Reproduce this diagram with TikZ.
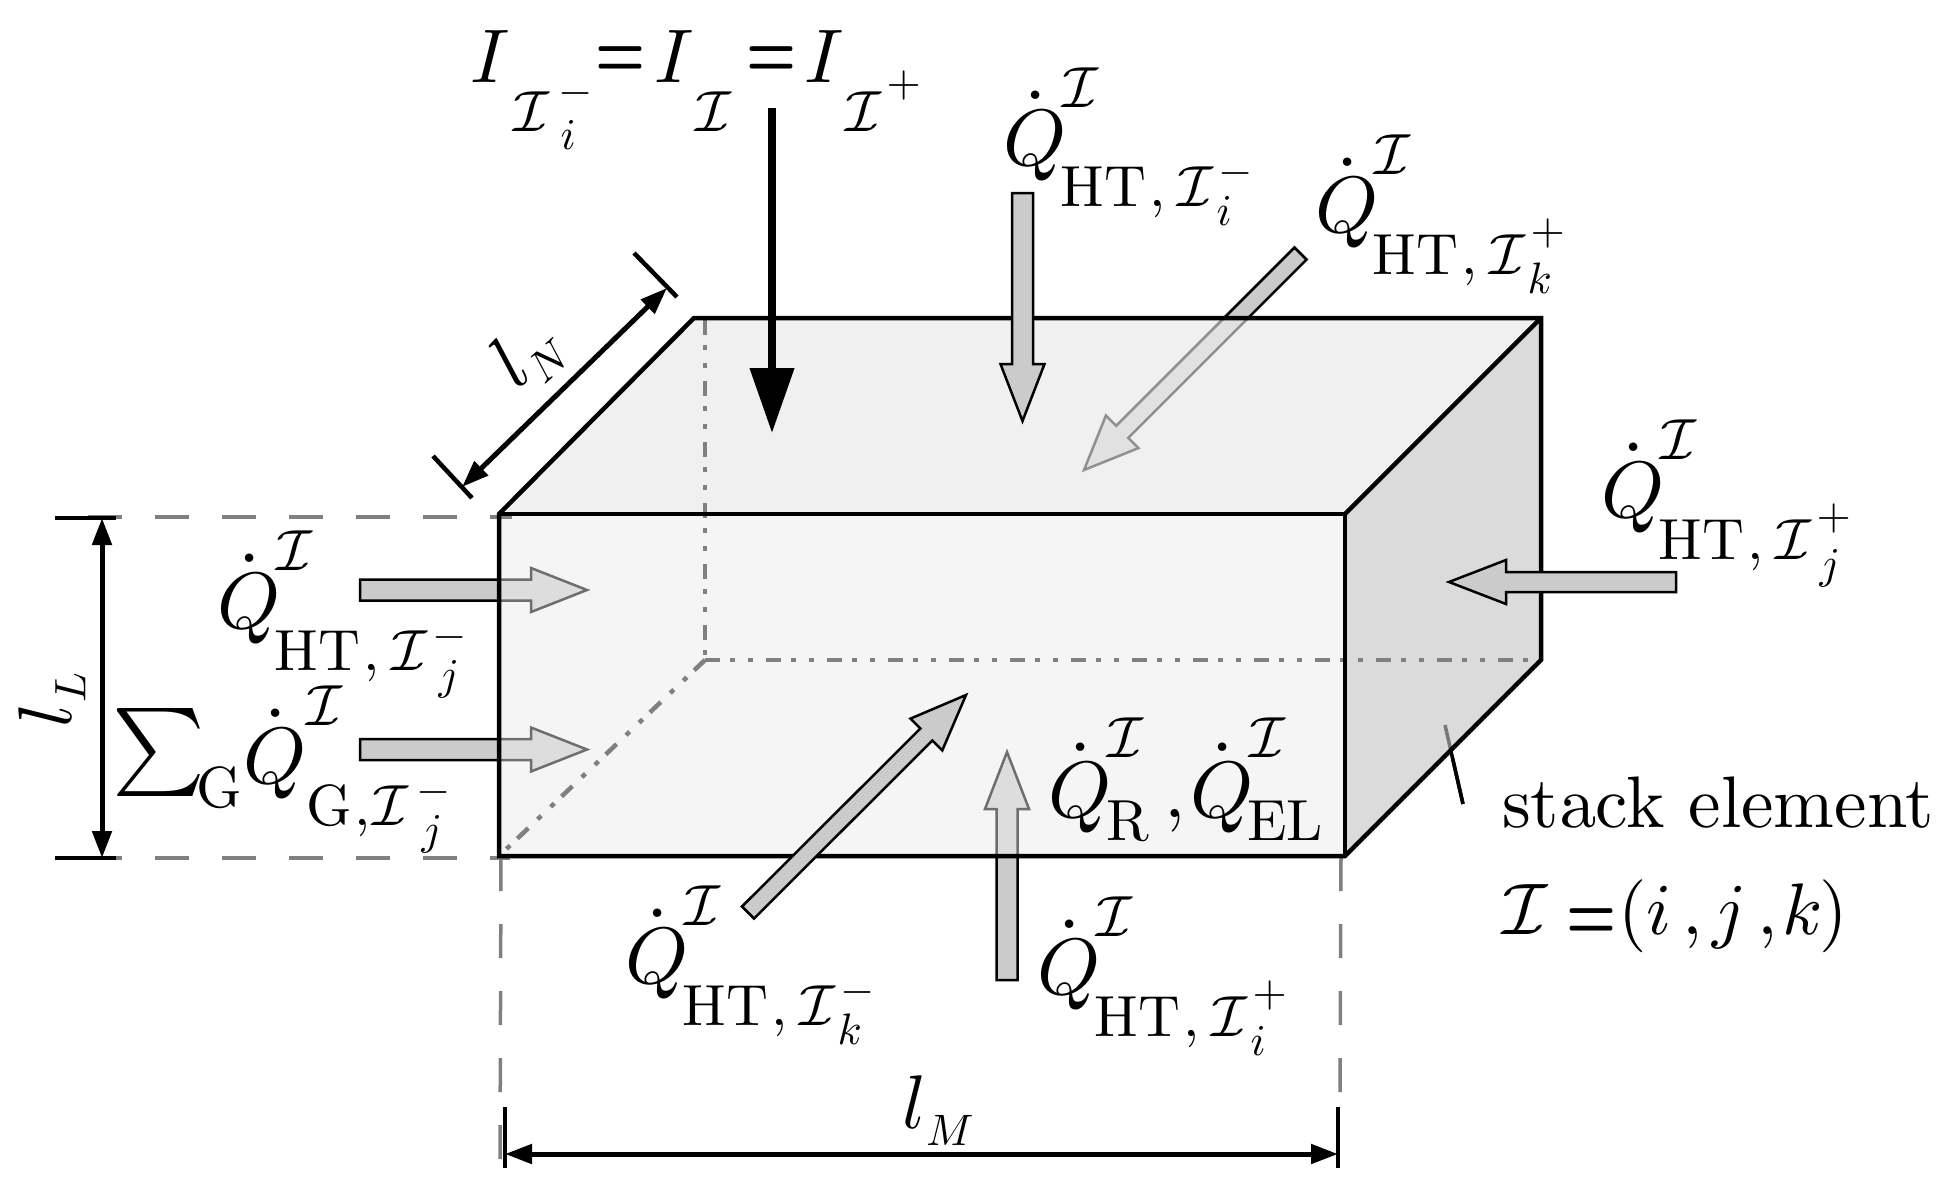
\documentclass[tikz,border=0pt]{standalone}
\usetikzlibrary{calc,arrows.meta}
\definecolor{topface}{HTML}{F0F0F0}
\definecolor{frontface}{HTML}{F5F5F5}
\definecolor{sideface}{HTML}{DBDBDB}
\definecolor{flowfill}{HTML}{CBCBCB}
\definecolor{hiddenline}{HTML}{808080}
\AtBeginDocument{\sbox0{$x$}}
\newcommand\setsz[1]{\font\rsfa=cmmi10 at #1pt \font\rsfb=cmr10 at #1pt \font\rsfc=cmsy10 at #1pt \font\rsfd=cmex10 at #1pt \textfont0=\rsfb \textfont1=\rsfa \textfont2=\rsfc \textfont3=\rsfd}
\newcommand\M[2]{{\setsz{#1}$#2$}}
\newcommand\RM[2]{{\setsz{#1}\rsfb #2}}
\newcommand\Pc[3]{\rlap{\kern#1pt\raisebox{#2pt}{#3}}}
\newcommand\CI[1][58]{\M{#1}{\mathcal I}}
\newcommand\EQ{\scalebox{1}[1.4]{{\font\rseq=cmbx10 at 56pt \rseq =}}}
% Q-dot with superscript I and HT subscript: #1 sign, #2 sign raise, #3 index, #4 index x
\newcommand\QHT[4]{\mbox{\Pc{-3}{0}{\M{80}{\dot Q}}\Pc{56}{58}{\CI}\Pc{54}{-42}{\RM{58}{HT}}\Pc{143}{-42}{\M{58}{,}}\Pc{171}{-42}{\CI}\Pc{212}{#2}{\M{44}{#1}}\Pc{#4}{-61}{\M{44}{#3}}}}
\tikzset{
  box/.style={draw=black,line width=4.5pt,line join=miter},
  blockflow/.style={draw=black,fill=flowfill,line width=2.5pt,line join=miter},
  hid/.style={draw=hiddenline,line width=4.5pt,dash pattern=on 15pt off 10pt on 5pt off 13pt on 5pt off 13pt},
  extn/.style={draw=hiddenline,line width=3.5pt,dash pattern=on 34pt off 33pt},
  dimline/.style={draw=black,line width=5pt,{Triangle[length=27pt,width=19pt]}-{Triangle[length=27pt,width=19pt]}},
  tick/.style={draw=black,line width=4.5pt},
  lab/.style={anchor=base west,inner sep=0pt,outer sep=0pt}
}
% tail, tip, shaft half width, head length, head half width
\newcommand\barrow[6][]{\draw[blockflow,#1] ($(#2)!#4pt!90:(#3)$) -- ($($(#3)!#5pt!(#2)$)!#4pt!90:(#3)$) -- ($($(#3)!#5pt!(#2)$)!#6pt!90:(#3)$) -- (#3) -- ($($(#3)!#5pt!(#2)$)!#6pt!-90:(#3)$) -- ($($(#3)!#5pt!(#2)$)!#4pt!-90:(#3)$) -- ($(#2)!#4pt!-90:(#3)$) -- cycle;}
\begin{document}
\begin{tikzpicture}[x=1pt,y=-1pt]
\useasboundingbox (0,0) rectangle (1947,1196);
% cuboid corners
\coordinate (FTL) at (499,514);
\coordinate (FTR) at (1345,514);
\coordinate (FBL) at (499,856);
\coordinate (FBR) at (1345,856);
\coordinate (BTL) at (694,318);
\coordinate (BTR) at (1541,318);
\coordinate (BBR) at (1541,660);
\coordinate (HID) at (705,660);
\coordinate (HIDT) at (705,320);
% opaque faces
\fill[topface] (FTL)--(BTL)--(BTR)--(FTR)--cycle;
\fill[frontface] (FTL)--(FTR)--(FBR)--(FBL)--cycle;
\fill[sideface] (FTR)--(BTR)--(BBR)--(FBR)--cycle;
% arrows seen through the faces
\coordinate (a1t) at (360,590); \coordinate (a1h) at (587,590);
\coordinate (a2t) at (360,749.5); \coordinate (a2h) at (587,749.5);
\coordinate (a3t) at (1300.5,253.5); \coordinate (a3h) at (1084,470);
\coordinate (a4t) at (1007,980); \coordinate (a4h) at (1007,752);
\barrow{a1t}{a1h}{10.5}{56}{22}
\barrow{a2t}{a2h}{10.5}{56}{22}
\barrow{a3t}{a3h}{8.5}{54}{23}
\barrow{a4t}{a4h}{10.5}{57}{22}
\coordinate (st1) at (1445,725); \coordinate (st2) at (1463,804);
\draw[line width=3.5pt] (st1)--(st2);
% translucent faces over them
\fill[topface,opacity=.6] (FTL)--(BTL)--(BTR)--(FTR)--cycle;
\fill[frontface,opacity=.45] (FTL)--(FTR)--(FBR)--(FBL)--cycle;
\fill[sideface,opacity=.55] (FTR)--(BTR)--(BBR)--(FBR)--cycle;
% hidden edges
\draw[hid] (HIDT)--(HID);
\draw[hid] (HID)--(BBR);
\draw[hid] (HID)--(FBL);
% extension lines
\coordinate (e1a) at (512,517); \coordinate (e1b) at (86,517);
\coordinate (e2a) at (510,858); \coordinate (e2b) at (116,858);
\coordinate (e3a) at (501,857); \coordinate (e3b) at (500,1160);
\coordinate (e4a) at (1341,857); \coordinate (e4b) at (1340,1095);
\draw[extn,dash phase=12pt] (e1a)--(e1b);
\draw[extn,dash phase=14pt] (e2a)--(e2b);
\draw[extn] (e3a)--(e3b);
\draw[extn] (e4a)--(e4b);
% cuboid edges
\draw[box] (FTL)--(BTL)--(BTR)--(BBR)--(FBR)--(FBL)--cycle;
\draw[box] (FTL)--(FTR)--(FBR);
\draw[box] (FTR)--(BTR);
% arrows on top
\coordinate (a5t) at (1022.5,193); \coordinate (a5h) at (1022.5,421);
\coordinate (a6t) at (1676,582); \coordinate (a6h) at (1449,582);
\coordinate (a7t) at (748,912.5); \coordinate (a7h) at (966,695);
\barrow{a5t}{a5h}{10.5}{57}{22}
\barrow{a6t}{a6h}{10}{57}{22}
\barrow{a7t}{a7h}{8.5}{56}{22.5}
% current arrow
\coordinate (ct) at (772,108); \coordinate (ch) at (772,433);
\draw[line width=7.5pt,-{Triangle[length=65pt,width=43pt]}] (ct)--(ch);
% dimensions
\coordinate (LLa) at (55,518); \coordinate (LLb) at (116,518);
\coordinate (LLc) at (55,858); \coordinate (LLd) at (116,858);
\coordinate (LLt) at (102,518); \coordinate (LLe) at (102,858);
\draw[tick] (LLa)--(LLb);
\draw[tick] (LLc)--(LLd);
\draw[dimline] (LLt)--(LLe);
\coordinate (LMa) at (505,1107); \coordinate (LMb) at (505,1168);
\coordinate (LMc) at (1338,1107); \coordinate (LMd) at (1338,1168);
\coordinate (LMl) at (505,1154); \coordinate (LMr) at (1338,1154);
\draw[tick] (LMa)--(LMb);
\draw[tick] (LMc)--(LMd);
\draw[dimline] (LMl)--(LMr);
\coordinate (LNa) at (634,253); \coordinate (LNb) at (677,297);
\coordinate (LNc) at (433,456); \coordinate (LNd) at (472,498);
\coordinate (LNu) at (667,288); \coordinate (LNv) at (462,487);
\draw[tick] (LNa)--(LNb);
\draw[tick] (LNc)--(LNd);
\draw[dimline] (LNu)--(LNv);
% stack pointer outside
\draw[line width=3.5pt] ($(st1)!.42!(st2)$)--(st2);
% labels
\node[lab] (current) at (470,83) {\mbox{\Pc{0}{0}{\M{76}{I}}\Pc{43}{-49}{\CI}\Pc{88}{-22}{\M{44}{-}}\Pc{90}{-67}{\M{44}{i}}\Pc{125}{5}{\EQ}\Pc{184}{0}{\M{76}{I}}\Pc{225}{-49}{\CI}\Pc{276}{5}{\EQ}\Pc{334}{0}{\M{76}{I}}\Pc{375}{-49}{\CI}\Pc{416}{-14}{\M{44}{+}}}};
\node[lab] (qim) at (1006,165) {\QHT{-}{-20}{i}{210}};
\node[lab] (qkp) at (1318,232) {\QHT{+}{-12}{k}{209}};
\node[lab] (qjp) at (1604,517) {\QHT{+}{-12}{j}{215}};
\node[lab] (qjm) at (220,628) {\QHT{-}{-20}{j}{218}};
\node[lab] (qkm) at (628,983) {\QHT{-}{-20}{k}{209}};
\node[lab] (qip) at (1040,994) {\QHT{+}{-12}{i}{210}};
\node[lab] (sumsign) at (112,774) {\M{88}{\sum}};
\node[lab] (sumg) at (196,807) {\RM{58}{G}};
\node[lab] (qg) at (246,783) {\mbox{\Pc{-3}{0}{\M{80}{\dot Q}}\Pc{60}{58}{\CI}\Pc{60}{-42}{\RM{58}{G}}\Pc{108}{-42}{\M{58}{,}}\Pc{126}{-42}{\CI}\Pc{170}{-20}{\M{44}{-}}\Pc{175}{-61}{\M{44}{j}}}};
\node[lab] (qr) at (1051,817) {\mbox{\Pc{-3}{0}{\M{80}{\dot Q}}\Pc{56}{60}{\CI}\Pc{55}{-23}{\RM{58}{R}}\Pc{113}{0}{\M{76}{,}}\Pc{139}{0}{\M{80}{\dot Q}}\Pc{198}{60}{\CI}\Pc{196}{-23}{\RM{58}{EL}}}};
\node[anchor=center,inner sep=0pt,rotate=42] (lN) at (528,355) {\mbox{\M{76}{l}\raisebox{-14pt}{\M{44}{N}}}};
\node[anchor=center,inner sep=0pt,rotate=90] (lL) at (52,700) {\mbox{\M{76}{l}\raisebox{-14pt}{\M{44}{L}}}};
\node[lab] (lM) at (902,1128) {\mbox{\M{76}{l}\raisebox{-17pt}{\M{44}{M}}}};
\node[lab] (stk) at (1502,827) {\font\stkf=cmr10 at 73pt \stkf stack element};
\node[lab] (idx) at (1502,934) {\mbox{\Pc{0}{0}{\CI[73]}\Pc{64}{-5}{\EQ}\Pc{116}{0}{\M{73}{(}}\Pc{144}{0}{\M{73}{i}}\Pc{180}{0}{\M{73}{,}}\Pc{210}{0}{\M{73}{j}}\Pc{255}{0}{\M{73}{,}}\Pc{280}{0}{\M{73}{k}}\Pc{317}{0}{\M{73}{)}}}};
\end{tikzpicture}
\end{document}
